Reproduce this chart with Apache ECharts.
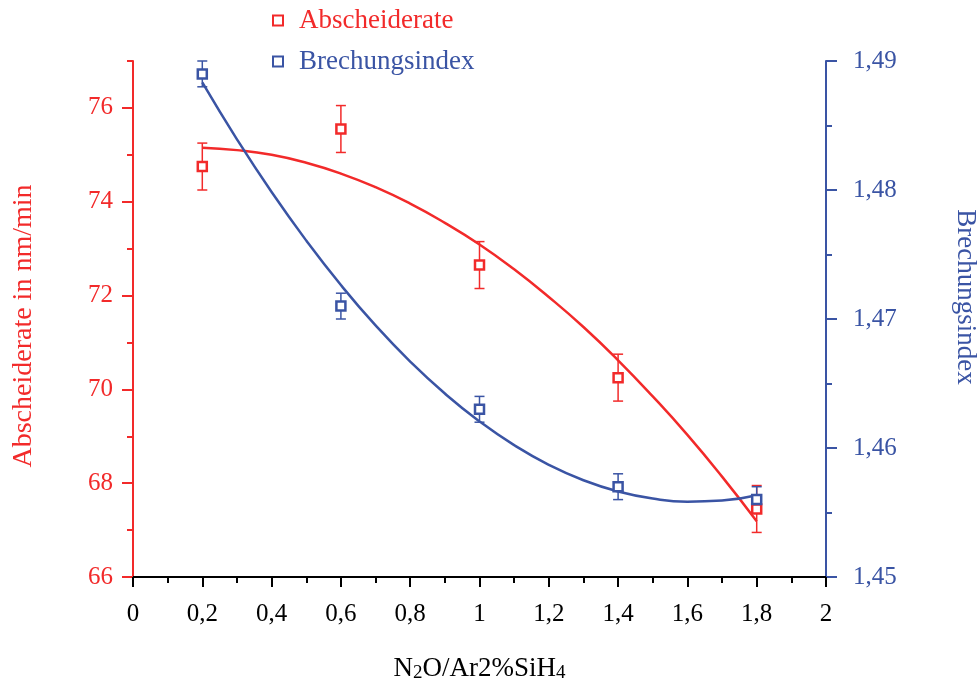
<!DOCTYPE html>
<html>
<head>
<meta charset="utf-8">
<script src="https://cdn.jsdelivr.net/npm/echarts@6/dist/echarts.min.js"></script>
<style>
html,body{margin:0;padding:0;background:#fff;}
#chart{width:977px;height:684px;}
</style>
</head>
<body>
<div id="chart"></div>
<script>
// ---- data ----
const xValues = [0.2, 0.6, 1.0, 1.4, 1.8];
const rateValues = [74.75, 75.55, 72.65, 70.25, 67.45];
const rateErr = [0.5, 0.5, 0.5, 0.5, 0.5];
const indexValues = [1.489, 1.471, 1.463, 1.457, 1.456];
const indexErr = [0.001, 0.001, 0.001, 0.001, 0.001];
// fit curves
const fitX = [0.2, 0.3, 0.4, 0.5, 0.6, 0.7, 0.8, 0.9, 1.0, 1.1, 1.2, 1.3, 1.4, 1.5, 1.6, 1.7, 1.8];
const rateFitY = [75.15, 75.10, 75.00, 74.83, 74.60, 74.31, 73.96, 73.55, 73.09, 72.56, 71.97, 71.33, 70.62, 69.85, 69.03, 68.14, 67.19];
const indexFitY = [1.48834, 1.48393, 1.47984, 1.47608, 1.47263, 1.46950, 1.46670, 1.46422, 1.46206, 1.46022, 1.45870, 1.45750, 1.45663, 1.45608, 1.45584, 1.45593, 1.45634];
const leftMajorTicks = [66, 68, 70, 72, 74, 76];
const leftMinorTicks = [67, 69, 71, 73, 75, 77];

const RED = '#f22a2a';
const BLUE = '#3a54a4';
const FONT = 'Liberation Serif';

function pairs(xs, ys) { return xs.map((x, i) => [x, ys[i]]); }
function errData(xs, ys, es) { return xs.map((x, i) => [x, ys[i] - es[i], ys[i] + es[i]]); }

function errRender(color) {
  return function (params, api) {
    const x = api.value(0), lo = api.value(1), hi = api.value(2);
    const top = api.coord([x, hi]);
    const bot = api.coord([x, lo]);
    const hw = 5;
    const st = { stroke: color, lineWidth: 1.5 };
    return {
      type: 'group',
      children: [
        { type: 'line', shape: { x1: top[0], y1: top[1], x2: bot[0], y2: bot[1] }, style: st },
        { type: 'line', shape: { x1: top[0] - hw, y1: top[1], x2: top[0] + hw, y2: top[1] }, style: st },
        { type: 'line', shape: { x1: bot[0] - hw, y1: bot[1], x2: bot[0] + hw, y2: bot[1] }, style: st }
      ]
    };
  };
}

const chart = echarts.init(document.getElementById('chart'));
const option = {
  animation: false,
  backgroundColor: '#fff',
  textStyle: { fontFamily: FONT },
  grid: { left: 133, right: 151, top: 61, bottom: 107, containLabel: false, outerBoundsMode: 'none' },
  legend: {
    orient: 'vertical',
    left: 272,
    top: 7,
    padding: 0,
    itemGap: 14,
    itemWidth: 10,
    itemHeight: 10,
    icon: 'rect',
    data: [
      { name: 'Abscheiderate', itemStyle: { color: '#fff', borderColor: RED, borderWidth: 2 }, textStyle: { color: RED, fontSize: 27, fontFamily: FONT, padding: [0, 0, 0, 11] } },
      { name: 'Brechungsindex', itemStyle: { color: '#fff', borderColor: BLUE, borderWidth: 2 }, textStyle: { color: BLUE, fontSize: 27, fontFamily: FONT, padding: [0, 0, 0, 11] } }
    ]
  },
  xAxis: {
    type: 'value',
    min: 0, max: 2, interval: 0.2,
    axisLine: { show: true, onZero: false, lineStyle: { color: '#000', width: 2 } },
    axisTick: { show: true, length: 10, lineStyle: { color: '#000', width: 2 } },
    minorTick: { show: true, splitNumber: 2, length: 6, lineStyle: { color: '#000', width: 2 } },
    splitLine: { show: false },
    axisLabel: {
      margin: 25, color: '#000', fontSize: 25, fontFamily: FONT,
      formatter: v => String(Math.round(v * 10) / 10).replace('.', ',')
    },
    name: '{a|N}{s|2}{a|O/Ar2%SiH}{s|4}',
    nameLocation: 'middle',
    nameGap: 77,
    nameTextStyle: {
      rich: {
        a: { fontSize: 27, fontFamily: FONT, color: '#000' },
        s: { fontSize: 19, fontFamily: FONT, color: '#000', padding: [10, 0, 0, 0] }
      }
    }
  },
  yAxis: [
    {
      type: 'value', position: 'left',
      min: 66, max: 77, interval: 2,
      axisLine: { show: true, onZero: false, lineStyle: { color: RED, width: 2 } },
      axisTick: { show: true, length: 11, customValues: leftMajorTicks, lineStyle: { color: RED, width: 2 } },
      splitLine: { show: false },
      axisLabel: {
        margin: 20, color: RED, fontSize: 25, fontFamily: FONT,
        customValues: leftMajorTicks,
        formatter: v => (v > 76 ? '' : String(v))
      },
      name: 'Abscheiderate in nm/min',
      nameLocation: 'middle',
      nameGap: 95,
      nameRotate: 90,
      nameTextStyle: { color: RED, fontSize: 28, fontFamily: FONT, padding: [0, 14, 0, 0] }
    },
    {
      type: 'value', position: 'right',
      min: 1.45, max: 1.49, interval: 0.01,
      axisLine: { show: true, onZero: false, lineStyle: { color: BLUE, width: 2 } },
      axisTick: { show: true, length: 11, lineStyle: { color: BLUE, width: 2 } },
      minorTick: { show: true, splitNumber: 2, length: 6, lineStyle: { color: BLUE, width: 2 } },
      splitLine: { show: false },
      axisLabel: {
        margin: 27, color: BLUE, fontSize: 25, fontFamily: FONT,
        formatter: v => v.toFixed(2).replace('.', ',')
      },
      name: 'Brechungsindex',
      nameLocation: 'middle',
      nameGap: 126,
      nameRotate: -90,
      nameTextStyle: { color: BLUE, fontSize: 27, fontFamily: FONT, padding: [0, 44, 0, 0] }
    },
    {
      type: 'value', position: 'left',
      min: 66, max: 77, interval: 1,
      axisLine: { show: false },
      axisTick: { show: true, length: 6, customValues: leftMinorTicks, lineStyle: { color: RED, width: 2 } },
      axisLabel: { show: false },
      splitLine: { show: false }
    }
  ],
  series: [
    {
      name: 'Abscheiderate Fit', type: 'line', yAxisIndex: 0, smooth: true, showSymbol: false, symbol: 'none',
      lineStyle: { color: RED, width: 2.5 }, data: pairs(fitX, rateFitY), z: 2
    },
    {
      name: 'Brechungsindex Fit', type: 'line', yAxisIndex: 1, smooth: true, showSymbol: false, symbol: 'none',
      lineStyle: { color: BLUE, width: 2.5 }, data: pairs(fitX, indexFitY), z: 2
    },
    {
      name: 'Abscheiderate Fehler', type: 'custom', yAxisIndex: 0, renderItem: errRender(RED),
      encode: { x: 0, y: [1, 2] }, data: errData(xValues, rateValues, rateErr), z: 3
    },
    {
      name: 'Brechungsindex Fehler', type: 'custom', yAxisIndex: 1, renderItem: errRender(BLUE),
      encode: { x: 0, y: [1, 2] }, data: errData(xValues, indexValues, indexErr), z: 3
    },
    {
      name: 'Abscheiderate', type: 'scatter', yAxisIndex: 0, symbol: 'rect', symbolSize: 9,
      itemStyle: { color: '#fff', borderColor: RED, borderWidth: 2.5, opacity: 1 },
      data: pairs(xValues, rateValues), z: 4
    },
    {
      name: 'Brechungsindex', type: 'scatter', yAxisIndex: 1, symbol: 'rect', symbolSize: 9,
      itemStyle: { color: '#fff', borderColor: BLUE, borderWidth: 2.5, opacity: 1 },
      data: pairs(xValues, indexValues), z: 5
    }
  ]
};
chart.setOption(option);
</script>
</body>
</html>
